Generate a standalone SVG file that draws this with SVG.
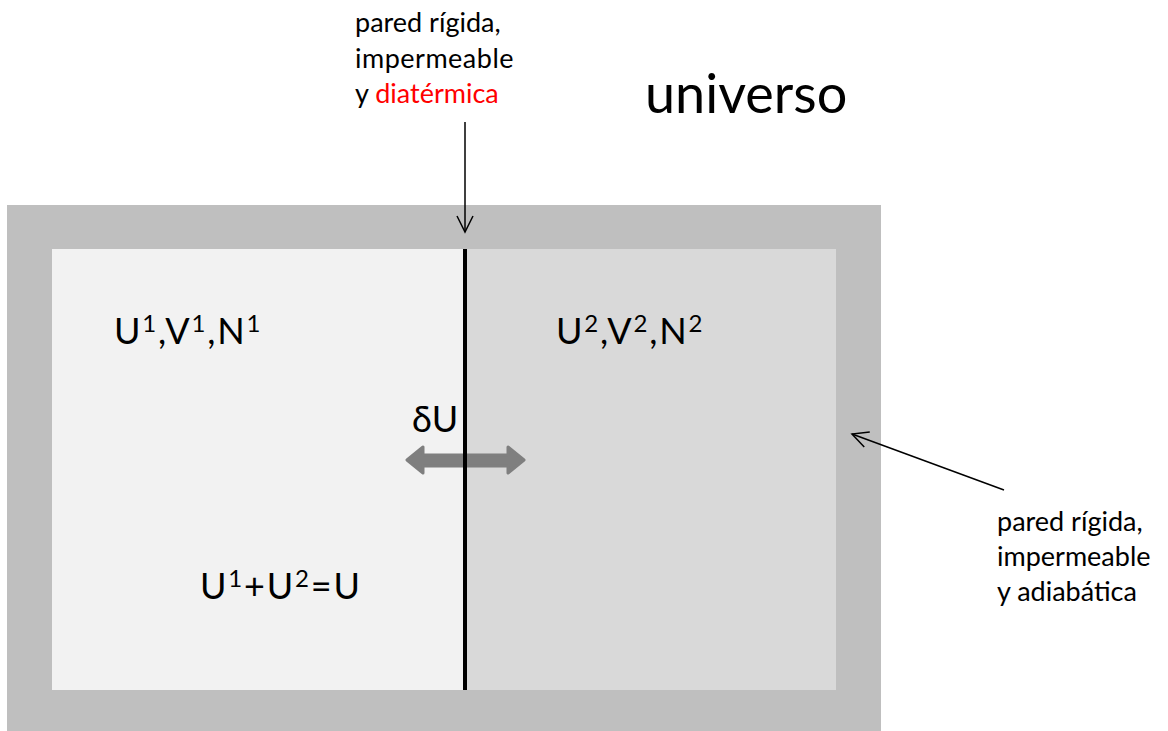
<svg xmlns="http://www.w3.org/2000/svg" width="1168" height="731" viewBox="0 0 1168 731">
<defs>
<style>
text{font-family:Lato,"Open Sans","Liberation Sans",sans-serif;fill:#000}
.lbl{font-size:27px}
.big{font-size:36px;letter-spacing:1.8px}
.sup{font-size:24px}
.thin{stroke:#000;stroke-width:1.5;fill:none}
</style>
<marker id="open" viewBox="0 0 20 20" refX="18" refY="10" markerWidth="20" markerHeight="20" markerUnits="userSpaceOnUse" orient="auto">
<path d="M2,2 L18,10 L2,18" fill="none" stroke="#000" stroke-width="1.5"/>
</marker>
</defs>
<rect width="1168" height="731" fill="#fff"/>
<g id="universo">
<text x="645" y="113" style="font-size:54px">universo</text>
</g>
<g id="container">
<rect x="7" y="205" width="874" height="530" fill="#bfbfbf"/>
</g>
<g id="subsystem1">
<rect x="52" y="249" width="413" height="441" fill="#f2f2f2"/>
<text x="114" y="344" class="big">U<tspan class="sup" dy="-12">1</tspan><tspan dy="12">,V</tspan><tspan class="sup" dy="-12">1</tspan><tspan dy="12">,N</tspan><tspan class="sup" dy="-12">1</tspan></text>
<text x="200" y="599" class="big">U<tspan class="sup" dy="-12">1</tspan><tspan dy="12">+U</tspan><tspan class="sup" dy="-12">2</tspan><tspan dy="12">=U</tspan></text>
</g>
<g id="subsystem2">
<rect x="465" y="249" width="371" height="441" fill="#d9d9d9"/>
<text x="556" y="344" class="big">U<tspan class="sup" dy="-12">2</tspan><tspan dy="12">,V</tspan><tspan class="sup" dy="-12">2</tspan><tspan dy="12">,N</tspan><tspan class="sup" dy="-12">2</tspan></text>
</g>
<g id="heat-flow">
<polygon points="407,460 423,447 423,455 508,455 508,447 524,460 508,473 508,466 423,466 423,473" fill="#7f7f7f" stroke="#7f7f7f" stroke-width="3" stroke-linejoin="round"/>
<text x="412" y="432" class="big" style="letter-spacing:0">δU</text>
</g>
<g id="divider">
<line x1="465" y1="249" x2="465" y2="690" stroke="#000" stroke-width="4"/>
</g>
<g id="label-diatermica">
<text x="355" y="32" class="lbl">pared rígida,</text>
<text x="355" y="68" class="lbl" style="letter-spacing:0.5px">impermeable</text>
<text x="355" y="103" class="lbl">y <tspan fill="#ff0000">diatérmica</tspan></text>
</g>
<g id="label-adiabatica">
<text x="997" y="531" class="lbl">pared rígida,</text>
<text x="997" y="566" class="lbl">impermeable</text>
<text x="997" y="601" class="lbl">y adiabática</text>
</g>
<g id="connectors">
<line x1="465" y1="122" x2="465" y2="232" class="thin" marker-end="url(#open)"/>
<line x1="1004" y1="490" x2="852" y2="434" class="thin" marker-end="url(#open)"/>
</g>
</svg>
